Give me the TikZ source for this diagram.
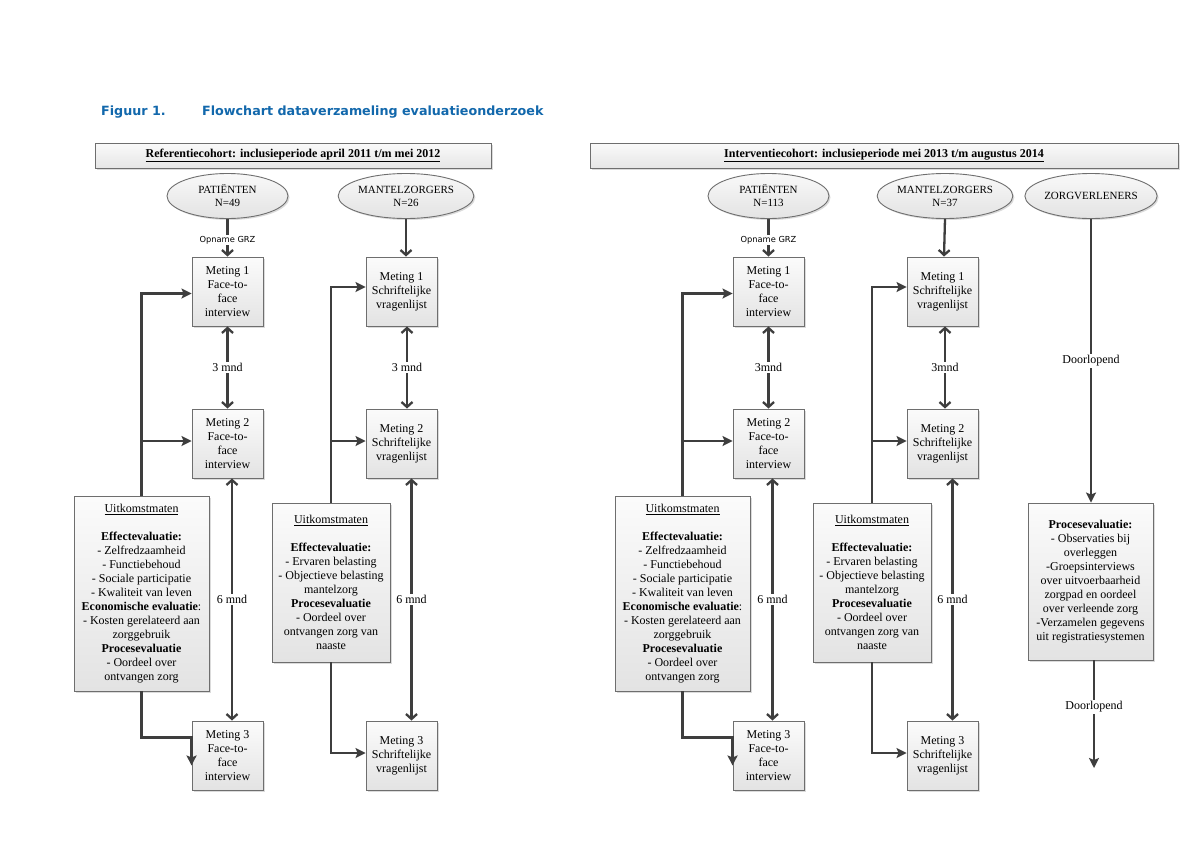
\documentclass[tikz,border=0pt]{standalone}
\usepackage{fontspec}
\setmainfont{Liberation Serif}
\newfontfamily\sansv{DejaVu Sans}
\usetikzlibrary{shapes.geometric,arrows.meta,shadows}
\definecolor{ttl}{RGB}{18,104,172}
\definecolor{ln}{RGB}{62,62,62}
\definecolor{bd}{RGB}{110,110,110}
\begin{document}
\begin{tikzpicture}[x=1pt,y=-1pt,
  every node/.style={font=\fontsize{12}{14}\selectfont, text=black},
  shad/.style={drop shadow={shadow xshift=1.5pt, shadow yshift=-1.5pt, fill=black!28}},
  box/.style={draw=bd, line width=0.9pt, top color=gray!3, bottom color=gray!22, shad, align=center, inner sep=0pt},
  mbox/.style={box, minimum width=71pt, minimum height=69pt},
  hdr/.style={box, minimum height=25pt, top color=gray!4, bottom color=gray!20, font=\fontsize{12}{14}\selectfont\bfseries},
  ell/.style={ellipse, draw=bd, line width=0.9pt, top color=gray!5, bottom color=gray!22, shad, minimum width=121pt, minimum height=45pt, inner sep=0pt, align=center, font=\fontsize{11}{13}\selectfont},
  lab/.style={fill=white, inner sep=1.5pt},
  glab/.style={fill=white, inner sep=1pt, font=\sansv\fontsize{8.3}{10}\selectfont},
  dbl/.style={draw=ln, line width=2.3pt, {Straight Barb[length=5pt,width=11pt]}-{Straight Barb[length=5pt,width=11pt]}},
  dn/.style={draw=ln, line width=2.3pt, -{Straight Barb[length=5pt,width=11pt]}},
  feed/.style={draw=ln, line width=2.5pt, -{Stealth[length=10pt,width=10pt,inset=2pt]}},
  zarr/.style={draw=ln, line width=2.4pt, -{Stealth[length=10pt,width=10pt,inset=2pt]}}
]
\path[fill=white] (0,0) rectangle (1200,849);

% title
\node[anchor=base west, inner sep=0pt, text=ttl, font=\sansv\bfseries\fontsize{12.7}{14}\selectfont] (t1) at (101,115) {Figuur 1.};
\node[anchor=base west, inner sep=0pt, text=ttl, font=\sansv\bfseries\fontsize{12.7}{14}\selectfont] (t2) at (202,115) {Flowchart dataverzameling evaluatieonderzoek};

% headers
\node[hdr, minimum width=396pt] (hl) at (293,155.5) {\underline{Referentiecohort: inclusieperiode april 2011 t/m mei 2012}};
\node[hdr, minimum width=588pt] (hr) at (884,155.5) {\underline{Interventiecohort: inclusieperiode mei 2013 t/m augustus 2014}};

% ===== LEFT (reference cohort) =====
\node[ell] (lpat) at (227.5,196) {PATIËNTEN\\N=49};
\node[ell] (lman) at (406,196) {MANTELZORGERS\\N=26};

\node[mbox] (lm1) at (227.5,291.5) {Meting 1\\Face-to-\\face\\interview};
\node[mbox] (lm2) at (227.5,443.5) {Meting 2\\Face-to-\\face\\interview};
\node[mbox] (lm3) at (227.5,755.5) {Meting 3\\Face-to-\\face\\interview};
\node[mbox] (mm1) at (401.5,291.5) {Meting 1\\Schriftelijke\\vragenlijst};
\node[mbox] (mm2) at (401.5,443.5) {Meting 2\\Schriftelijke\\vragenlijst};
\node[mbox] (mm3) at (401.5,755.5) {Meting 3\\Schriftelijke\\vragenlijst};

\node[box, minimum width=135pt, minimum height=195pt] (lu) at (141.5,593.5)
 {\underline{Uitkomstmaten}\\[14pt]
  \textbf{Effectevaluatie:}\\
  - Zelfredzaamheid\\
  - Functiebehoud\\
  - Sociale participatie\\
  - Kwaliteit van leven\\
  \textbf{Economische evaluatie}:\\
  - Kosten gerelateerd aan\\
  zorggebruik\\
  \textbf{Procesevaluatie}\\
  - Oordeel over\\
  ontvangen zorg};
\node[box, minimum width=118pt, minimum height=159pt] (mu) at (331,582.5)
 {\underline{Uitkomstmaten}\\[14pt]
  \textbf{Effectevaluatie:}\\
  - Ervaren belasting\\
  - Objectieve belasting\\
  mantelzorg\\
  \textbf{Procesevaluatie}\\
  - Oordeel over\\
  ontvangen zorg van\\
  naaste};

\draw[dn] (lpat.south) -- (lm1.north) node[glab, pos=0.57] {Opname GRZ};
\draw[dn] (lman.south) -- (lman.south |- mm1.north);
\draw[dbl] (lm1.south) -- (lm2.north) node[lab, midway] {3 mnd};
\draw[dbl] ([xshift=4.5pt]lm2.south) -- ([xshift=4.5pt]lm3.north) node[lab, midway] {6 mnd};
\draw[dbl] ([xshift=5.5pt]mm1.south) -- ([xshift=5.5pt]mm2.north) node[lab, midway] {3 mnd};
\draw[dbl] ([xshift=10pt]mm2.south) -- ([xshift=10pt]mm3.north) node[lab, midway] {6 mnd};

\draw[feed] (lu.north) |- ([yshift=-2pt]lm1.west);
\draw[feed] (lu.north |- lm2.west) ++(0,-2.5) -- ([yshift=2.5pt]lm2.west);
\draw[feed] (lu.south) -- ++(0,46) -| ([yshift=-10pt]lm3.west);
\draw[feed] (mu.north) |- ([yshift=4.5pt]mm1.west);
\draw[feed] (mu.north |- mm2.west) ++(0,-2.5) -- ([yshift=2.5pt]mm2.west);
\draw[feed] (mu.south) |- ([yshift=2.5pt]mm3.west);

% ===== RIGHT (intervention cohort) =====
\node[ell] (rpat) at (768.5,196) {PATIËNTEN\\N=113};
\node[ell] (rman) at (945,196) {MANTELZORGERS\\N=37};
\node[ell] (rzorg) at (1091,196) {ZORGVERLENERS};

\node[mbox] (rm1) at (768.5,291.5) {Meting 1\\Face-to-\\face\\interview};
\node[mbox] (rm2) at (768.5,443.5) {Meting 2\\Face-to-\\face\\interview};
\node[mbox] (rm3) at (768.5,755.5) {Meting 3\\Face-to-\\face\\interview};
\node[mbox] (rmm1) at (942.5,291.5) {Meting 1\\Schriftelijke\\vragenlijst};
\node[mbox] (rmm2) at (942.5,443.5) {Meting 2\\Schriftelijke\\vragenlijst};
\node[mbox] (rmm3) at (942.5,755.5) {Meting 3\\Schriftelijke\\vragenlijst};

\node[box, minimum width=135pt, minimum height=195pt] (ru) at (682.5,593.5)
 {\underline{Uitkomstmaten}\\[14pt]
  \textbf{Effectevaluatie:}\\
  - Zelfredzaamheid\\
  - Functiebehoud\\
  - Sociale participatie\\
  - Kwaliteit van leven\\
  \textbf{Economische evaluatie}:\\
  - Kosten gerelateerd aan\\
  zorggebruik\\
  \textbf{Procesevaluatie}\\
  - Oordeel over\\
  ontvangen zorg};
\node[box, minimum width=118pt, minimum height=159pt] (rmu) at (872,582.5)
 {\underline{Uitkomstmaten}\\[14pt]
  \textbf{Effectevaluatie:}\\
  - Ervaren belasting\\
  - Objectieve belasting\\
  mantelzorg\\
  \textbf{Procesevaluatie}\\
  - Oordeel over\\
  ontvangen zorg van\\
  naaste};
\node[box, minimum width=125pt, minimum height=157pt] (zb) at (1090.5,581.5)
 {\textbf{Procesevaluatie:}\\
  - Observaties bij\\
  overleggen\\
  -Groepsinterviews\\
  over uitvoerbaarheid\\
  zorgpad en oordeel\\
  over verleende zorg\\
  -Verzamelen gegevens\\
  uit registratiesystemen};
\coordinate (zend) at (1094,768);

\draw[dn] (rpat.south) -- (rm1.north) node[glab, pos=0.57] {Opname GRZ};
\draw[dn] (rman.south) -- ([xshift=1.5pt]rmm1.north);
\draw[dbl] (rm1.south) -- (rm2.north) node[lab, midway] {3mnd};
\draw[dbl] ([xshift=4pt]rm2.south) -- ([xshift=4pt]rm3.north) node[lab, midway] {6 mnd};
\draw[dbl] ([xshift=2.5pt]rmm1.south) -- ([xshift=2.5pt]rmm2.north) node[lab, midway] {3mnd};
\draw[dbl] ([xshift=10pt]rmm2.south) -- ([xshift=10pt]rmm3.north) node[lab, midway] {6 mnd};

\draw[feed] (ru.north) |- ([yshift=-2pt]rm1.west);
\draw[feed] (ru.north |- rm2.west) ++(0,-2.5) -- ([yshift=2.5pt]rm2.west);
\draw[feed] (ru.south) -- ++(0,46) -| ([yshift=-10pt]rm3.west);
\draw[feed] (rmu.north) |- ([yshift=4.5pt]rmm1.west);
\draw[feed] (rmu.north |- rmm2.west) ++(0,-2.5) -- ([yshift=2.5pt]rmm2.west);
\draw[feed] (rmu.south) |- ([yshift=2.5pt]rmm3.west);

\draw[zarr] (rzorg.south) -- (rzorg.south |- zb.north) node[lab, midway] {Doorlopend};
\draw[zarr] (zb.south -| zend) -- (zend) node[lab, pos=0.43] {Doorlopend};
\end{tikzpicture}
\end{document}
